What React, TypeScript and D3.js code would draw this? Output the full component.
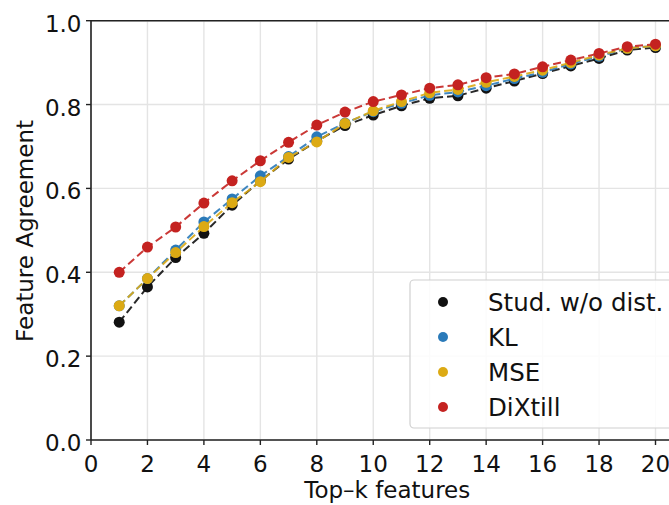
import React from "react";
import * as d3 from "d3";

const ks = d3.range(1, 21);
const studValues = [0.281, 0.365, 0.435, 0.493, 0.56, 0.618, 0.67, 0.713, 0.75, 0.775, 0.797, 0.815, 0.821, 0.839, 0.856, 0.874, 0.892, 0.91, 0.93, 0.936];
const klValues = [0.32, 0.385, 0.453, 0.52, 0.575, 0.63, 0.676, 0.723, 0.756, 0.783, 0.803, 0.822, 0.83, 0.845, 0.862, 0.877, 0.897, 0.915, 0.934, 0.94];
const mseValues = [0.32, 0.385, 0.447, 0.509, 0.566, 0.616, 0.674, 0.711, 0.755, 0.785, 0.807, 0.828, 0.836, 0.853, 0.867, 0.882, 0.9, 0.918, 0.934, 0.94];
const dixtillValues = [0.40, 0.46, 0.508, 0.565, 0.618, 0.666, 0.71, 0.751, 0.782, 0.807, 0.823, 0.839, 0.847, 0.864, 0.873, 0.89, 0.906, 0.922, 0.938, 0.944];

const seriesNames = ["Stud. w/o dist.", "KL", "MSE", "DiXtill"];
const seriesColors = ["#111111", "#2a7ab9", "#dcaa14", "#c42220"];
const seriesValues = [studValues, klValues, mseValues, dixtillValues];

const xTicks = [0, 2, 4, 6, 8, 10, 12, 14, 16, 18, 20];
const yTicks = [0, 0.2, 0.4, 0.6, 0.8, 1.0];

export default function App() {
  const W = 669, H = 505;
  const left = 91, top = 20.7, bottom = 440;
  const x = d3.scaleLinear().domain([0, 20]).range([91, 655.5]);
  const y = d3.scaleLinear().domain([0, 1]).range([bottom, top]);
  const right = W + 5;
  const font = "DejaVu Sans, sans-serif";
  const fs = 23;
  const line = d3.line<number>().x((_, i) => x(ks[i])).y((d) => y(d));

  return (
    <svg width={W} height={H} style={{ position: "absolute", left: 0, top: 0, background: "#fff" }} fontFamily={font}>
      <rect x={0} y={0} width={W} height={H} fill="#fff" />
      {/* grid */}
      {xTicks.map((t) => (
        <line key={"gx" + t} x1={x(t)} x2={x(t)} y1={top} y2={bottom} stroke="#e4e4e4" strokeWidth={1.4} />
      ))}
      {yTicks.map((t) => (
        <line key={"gy" + t} x1={left} x2={right} y1={y(t)} y2={y(t)} stroke="#e4e4e4" strokeWidth={1.4} />
      ))}
      {/* series */}
      {seriesValues.map((vals, si) => (
        <g key={"s" + si}>
          <path d={line(vals) || ""} fill="none" stroke={seriesColors[si]} strokeWidth={2} strokeDasharray="8,4" opacity={0.9} />
          {vals.map((v, i) => (
            <circle key={i} cx={x(ks[i])} cy={y(v)} r={5.5} fill={seriesColors[si]} />
          ))}
        </g>
      ))}
      {/* spines */}
      <line x1={left} x2={left} y1={top} y2={bottom} stroke="#222" strokeWidth={1.6} />
      <line x1={left} x2={right} y1={bottom} y2={bottom} stroke="#222" strokeWidth={1.6} />
      <line x1={left} x2={right} y1={top} y2={top} stroke="#222" strokeWidth={1.6} />
      {/* x ticks */}
      {xTicks.map((t) => (
        <g key={"xt" + t}>
          <line x1={x(t)} x2={x(t)} y1={bottom} y2={bottom + 5} stroke="#222" strokeWidth={1.4} />
          <text x={x(t)} y={471.5} textAnchor="middle" fontSize={fs} fill="#111">{t}</text>
        </g>
      ))}
      {/* y ticks */}
      {yTicks.map((t) => (
        <g key={"yt" + t}>
          <line x1={left - 5} x2={left} y1={y(t)} y2={y(t)} stroke="#222" strokeWidth={1.4} />
          <text x={81.5} y={y(t) + 11} textAnchor="end" fontSize={fs} fill="#111">{t.toFixed(1)}</text>
        </g>
      ))}
      <text x={(x(0) + x(20)) / 2 + 14} y={498} textAnchor="middle" fontSize={fs} fill="#111">Top–k features</text>
      <text transform={`translate(33,231) rotate(-90)`} textAnchor="middle" fontSize={fs} fill="#111">Feature Agreement</text>
      {/* legend */}
      <rect x={410} y={280} width={280} height={148} rx={4} fill="#fff" fillOpacity={0.85} stroke="#d0d0d0" strokeWidth={1.2} />
      {seriesNames.map((n, i) => (
        <g key={"lg" + i}>
          <circle cx={443} cy={302 + i * 35} r={5} fill={seriesColors[i]} />
          <text x={488} y={302 + i * 35 + 9} fontSize={24.5} fill="#111">{n}</text>
        </g>
      ))}
    </svg>
  );
}
